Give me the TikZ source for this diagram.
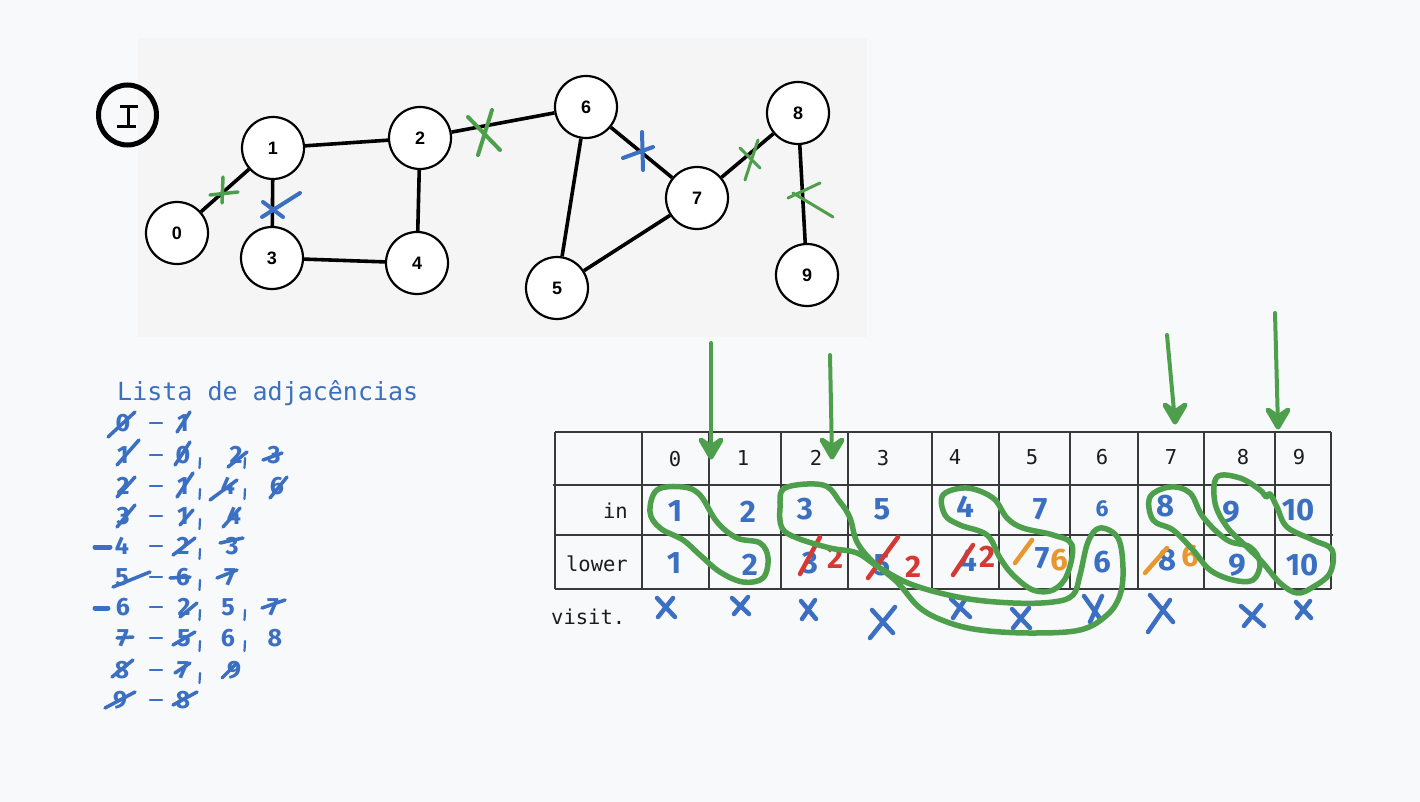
\documentclass[tikz,border=0pt]{standalone}
\usepackage{fontspec}
\setmainfont{Liberation Sans}
\newfontfamily\monof{DejaVu Sans Mono}
\newfontfamily\handf{Fira Sans}
\usetikzlibrary{arrows.meta}
\definecolor{bgc}{HTML}{F8F9FB}
\definecolor{imgbg}{HTML}{F5F5F5}
\definecolor{hblue}{HTML}{3A6FC1}
\definecolor{hgreen}{HTML}{4E9F4C}
\definecolor{hred}{HTML}{D43A33}
\definecolor{horange}{HTML}{E8962F}
\definecolor{ink}{HTML}{1C1C1C}
\definecolor{tgray}{HTML}{3A3A3A}
\tikzset{
  gnode/.style={circle,draw=black,line width=2.2pt,fill=white,minimum size=62pt,inner sep=0pt,
    font=\bfseries\fontsize{18}{18}\selectfont},
  gedge/.style={line width=3.6pt,black},
  gmark/.style={hgreen,line width=3.5pt,line cap=round},
  bmark/.style={hblue,line width=4pt,line cap=round},
  adig/.style={hblue,inner sep=0pt,font=\handf\bfseries\fontsize{25}{25}\selectfont},
  tdig/.style={hblue,inner sep=0pt,font=\handf\bfseries\fontsize{31}{31}\selectfont},
  rdig/.style={hred,inner sep=0pt,font=\handf\bfseries\fontsize{31}{31}\selectfont},
  odig/.style={horange,inner sep=0pt,font=\handf\bfseries\fontsize{31}{31}\selectfont},
  mono/.style={ink,inner sep=0pt,font=\monof\fontsize{20.5}{20.5}\selectfont},
  bstroke/.style={hblue,line width=3.5pt,line cap=round},
  thin/.style={hblue,line width=2.2pt,line cap=round},
  rstroke/.style={hred,line width=4.5pt,line cap=round},
  ostroke/.style={horange,line width=4.5pt,line cap=round},
  tline/.style={tgray,line width=1.2pt},
  loopg/.style={hgreen,line width=5.5pt,line join=round},
  garrow/.style={hgreen,line width=4pt,line cap=round},
  ghead/.style={hgreen,line width=5pt,line cap=round,line join=round},
  vx/.style={hblue,line width=4.5pt,line cap=round},
}
\newcommand{\hd}[4]{\node[adig] (#1) at (#2,#3) {#4};}
\newcommand{\cm}[2]{\draw[thin] (#1,#2+3) -- (#1-0.5,#2+13);}
\newcommand{\dsh}[1]{\draw[thin] (150,#1) -- (162,#1);}
% arrow head: filled rounded V ending at the named coordinate
\newcommand{\ahead}[1]{\filldraw[ghead] ([shift={(-10,-17)}]#1) -- ([shift={(0,-10)}]#1) -- ([shift={(10,-17)}]#1) -- (#1) -- cycle;}
\begin{document}
\begin{tikzpicture}[x=1pt,y=-1pt]
\fill[bgc] (0,0) rectangle (1420,802);
\useasboundingbox (0,0) rectangle (1420,802);
\fill[imgbg] (138,38) rectangle (867,337);

% Roman numeral I circle
\draw[black,line width=5pt] (127.5,115) ellipse (29 and 30);
\draw[black,line width=3pt] (120,107) -- (138,107) (128.5,107) -- (128.5,127) (117,127) -- (136,127);

% graph
\node[gnode] (n0) at (177,233) {0};
\node[gnode] (n1) at (273,148) {1};
\node[gnode] (n2) at (420,138) {2};
\node[gnode] (n3) at (272,258) {3};
\node[gnode] (n4) at (417,263) {4};
\node[gnode] (n5) at (557,288) {5};
\node[gnode] (n6) at (586,107) {6};
\node[gnode] (n7) at (697,198) {7};
\node[gnode] (n8) at (798,113) {8};
\node[gnode] (n9) at (807,275) {9};
\draw[gedge] (n0) -- (n1);
\draw[gedge] (n1) -- (n2);
\draw[gedge] (n1) -- (n3);
\draw[gedge] (n2) -- (n4);
\draw[gedge] (n3) -- (n4);
\draw[gedge] (n2) -- (n6);
\draw[gedge] (n6) -- (n5);
\draw[gedge] (n6) -- (n7);
\draw[gedge] (n5) -- (n7);
\draw[gedge] (n7) -- (n8);
\draw[gedge] (n8) -- (n9);
% marks on edges
\draw[gmark] (210,195) -- (238,192) (223,177) -- (222,203);
\draw[bmark] (262,217) -- (300,193) (263,202) -- (283,217);
\draw[gmark,line width=4pt] (468,117) -- (500,150) (492,110) -- (478,155);
\draw[bmark] (642,132) -- (643,170) (623,158) -- (653,147);
\draw[gmark,line width=3pt] (740,148) -- (760,168) (758,140) -- (745,180);
\draw[gmark,line width=3pt] (788,198) -- (820,183) (793,193) -- (833,217);

% adjacency list
\node[hblue,anchor=west,inner sep=0pt,font=\monof\fontsize{25}{25}\selectfont] (title) at (117,393) {Lista de adjacências};
\hd{l0a}{123}{423}{0}\hd{l0b}{183}{423}{1}
\hd{l1a}{123}{455}{1}\hd{l1b}{183}{455}{0}\hd{l1c}{236}{455}{2}\hd{l1d}{274}{455}{3}
\hd{l2a}{123}{486}{2}\hd{l2b}{183}{486}{1}\hd{l2c}{228}{486}{4}\hd{l2d}{277}{486}{6}
\hd{l3a}{123}{516}{3}\hd{l3b}{183}{516}{1}\hd{l3c}{234}{516}{4}
\hd{l4a}{122}{546}{4}\hd{l4b}{183}{546}{2}\hd{l4c}{232}{546}{3}
\hd{l5a}{122}{577}{5}\hd{l5b}{183}{577}{6}\hd{l5c}{230}{577}{7}
\hd{l6a}{123}{607}{6}\hd{l6b}{184}{607}{2}\hd{l6c}{228}{607}{5}\hd{l6d}{273}{607}{7}
\hd{l7a}{123}{638}{7}\hd{l7b}{184}{638}{5}\hd{l7c}{228}{638}{6}\hd{l7d}{275}{638}{8}
\hd{l8a}{122}{670}{8}\hd{l8b}{183}{670}{7}\hd{l8c}{234}{670}{9}
\hd{l9a}{120}{700}{9}\hd{l9b}{183}{700}{8}
\dsh{423}\dsh{455}\dsh{486}\dsh{516}\dsh{546}\dsh{577}\dsh{607}\dsh{638}\dsh{670}\dsh{700}
\cm{200}{455}\cm{245}{455}\cm{200}{486}\cm{245}{486}\cm{200}{516}\cm{200}{546}\cm{200}{577}
\cm{200}{607}\cm{245}{607}\cm{200}{638}\cm{245}{638}\cm{200}{670}
\draw[bstroke] (108,437) -- (135,412) (177,432) -- (190,412);
\draw[bstroke] (117,465) -- (139,440) (175,465) -- (190,442) (228,467) -- (247,452) (263,460) -- (282,453);
\draw[bstroke] (117,497) -- (135,477) (177,497) -- (193,473) (210,500) -- (237,480) (270,498) -- (287,477);
\draw[bstroke] (117,527) -- (135,505) (180,525) -- (193,510) (223,527) -- (240,508);
\draw[bstroke,line width=5pt] (95,547) -- (110,547);
\draw[bstroke] (173,555) -- (195,538) (220,543) -- (243,538);
\draw[bstroke] (113,587) -- (150,572) (170,578) -- (190,577) (217,578) -- (237,570);
\draw[bstroke,line width=5pt] (95,608) -- (108,608);
\draw[bstroke] (180,617) -- (197,603) (262,608) -- (285,600);
\draw[bstroke] (117,638) -- (133,637) (173,645) -- (195,632);
\draw[bstroke] (112,677) -- (133,660) (175,673) -- (190,663) (222,678) -- (237,663);
\draw[bstroke] (105,708) -- (135,692) (173,705) -- (197,692);

% table
\draw[tline] (555,432) -- (1331,432);
\draw[tline] (553,485) -- (1331,485);
\draw[tline] (555,535) -- (1333,535);
\draw[tline] (555,589) -- (1331,589);
\foreach \x in {555,642,709,781,848,932,999,1070,1138,1204,1275,1331}
  \draw[tline] (\x,432) -- (\x,589);
\node[mono] (h0) at (675,459) {0};
\node[mono] (h1) at (743,458) {1};
\node[mono] (h2) at (816,458) {2};
\node[mono] (h3) at (883,458) {3};
\node[mono] (h4) at (955,457) {4};
\node[mono] (h5) at (1032,457) {5};
\node[mono] (h6) at (1102,457) {6};
\node[mono] (h7) at (1171,457) {7};
\node[mono] (h8) at (1243,457) {8};
\node[mono] (h9) at (1299,457) {9};
\node[mono,anchor=east] (rin) at (628,511) {in};
\node[mono,anchor=east] (rlow) at (628,564) {lower};
\node[mono,anchor=west] (rvis) at (551,617) {visit.};
% in row
\node[tdig] (i0) at (675,511) {1};
\node[tdig] (i1) at (748,512) {2};
\node[tdig] (i2) at (805,509) {3};
\node[tdig] (i3) at (882,509) {5};
\node[tdig] (i4) at (965,507) {4};
\node[tdig] (i5) at (1040,509) {7};
\node[tdig,font=\handf\bfseries\fontsize{23}{23}\selectfont] (i6) at (1102,509) {6};
\node[tdig] (i7) at (1165,506) {8};
\node[tdig] (i8) at (1231,512) {9};
\node[tdig] (i9) at (1298,510) {10};
% lower row
\node[tdig] (w0) at (674,563) {1};
\node[tdig] (w1) at (750,565) {2};
\node[tdig] (w2) at (810,563) {3};
\node[tdig] (w3) at (882,565) {5};
\node[tdig] (w4) at (968,561) {4};
\node[tdig] (w5) at (1042,558) {7};
\node[tdig] (w6) at (1102,562) {6};
\node[tdig] (w7) at (1167,560) {8};
\node[tdig] (w8) at (1237,565) {9};
\node[tdig] (w9) at (1302,565) {10};
\node[rdig] (x2) at (835,558) {2};
\node[rdig] (x3) at (913,567) {2};
\node[rdig] (x4) at (987,557) {2};
\node[odig] (x5) at (1059,560) {6};
\node[odig] (x7) at (1190,556) {6};
\draw[rstroke] (800,574) -- (820,537);
\draw[rstroke] (868,578) -- (898,537);
\draw[rstroke] (953,575) -- (973,545);
\draw[ostroke] (1015,563) -- (1032,540);
\draw[ostroke] (1145,573) -- (1167,548);
% visited marks
\draw[vx] (657,598) -- (675,617) (673,598) -- (658,617);
\draw[vx] (732,598) -- (749,614) (748,597) -- (734,614);
\draw[vx] (801,601) -- (816,619) (815,600) -- (802,619);
\draw[vx] (872,610) -- (893,633) (895,607) -- (870,638);
\draw[vx] (951,599) -- (970,617) (966,598) -- (953,618);
\draw[vx] (1012,609) -- (1030,628) (1029,608) -- (1013,628);
\draw[vx] (1084,596) -- (1101,620) (1102,596) -- (1090,622);
\draw[vx] (1150,595) -- (1173,622) (1170,600) -- (1148,632);
\draw[vx] (1241,606) -- (1264,626) (1261,605) -- (1244,626);
\draw[vx] (1296,602) -- (1311,618) (1310,601) -- (1297,618);

% green loops
\draw[loopg] plot[smooth cycle,tension=0.6] coordinates {(650,512) (657,490) (683,487) (700,495) (717,522) (737,538) (760,543) (768,558) (763,578) (743,582) (720,572) (700,555) (683,540) (660,528)};
\draw[loopg] plot[smooth cycle,tension=0.6] coordinates {(785,488) (823,485) (840,502) (850,518) (857,542) (873,562) (897,582) (920,608) (947,622) (980,630) (1030,633) (1080,630) (1107,615) (1120,595) (1123,568) (1118,538) (1100,528) (1088,542) (1080,575) (1073,595) (1053,602) (1013,603) (963,598) (913,585) (880,568) (857,553) (830,548) (797,538) (782,528) (780,508)};
\draw[loopg] plot[smooth cycle,tension=0.6] coordinates {(943,495) (967,488) (993,498) (1007,518) (1023,528) (1053,535) (1072,545) (1067,575) (1053,590) (1033,590) (1013,575) (1000,558) (987,535) (960,525) (945,515)};
\draw[loopg] plot[smooth cycle,tension=0.6] coordinates {(1150,497) (1170,487) (1190,493) (1203,517) (1227,540) (1250,547) (1260,563) (1253,580) (1233,580) (1210,570) (1193,550) (1173,530) (1153,520)};
\draw[loopg] plot[smooth cycle,tension=0.6] coordinates {(1217,477) (1240,478) (1260,490) (1266,497) (1270,494) (1277,507) (1287,527) (1313,540) (1332,550) (1330,573) (1313,587) (1297,593) (1280,583) (1263,563) (1247,547) (1227,527) (1215,503)};

% green arrows
\coordinate (a1s) at (711,343); \coordinate (a1e) at (711,457);
\coordinate (a2s) at (830,355); \coordinate (a2e) at (832,457);
\coordinate (a3s) at (1167,335); \coordinate (a3e) at (1175,422);
\coordinate (a4s) at (1275,313); \coordinate (a4e) at (1278,427);
\draw[garrow] (a1s) -- (a1e);
\draw[garrow] (a2s) -- (a2e);
\draw[garrow] (a3s) -- (a3e);
\draw[garrow] (a4s) -- (a4e);
\ahead{a1e}\ahead{a2e}\ahead{a3e}\ahead{a4e}
\end{tikzpicture}
\end{document}
